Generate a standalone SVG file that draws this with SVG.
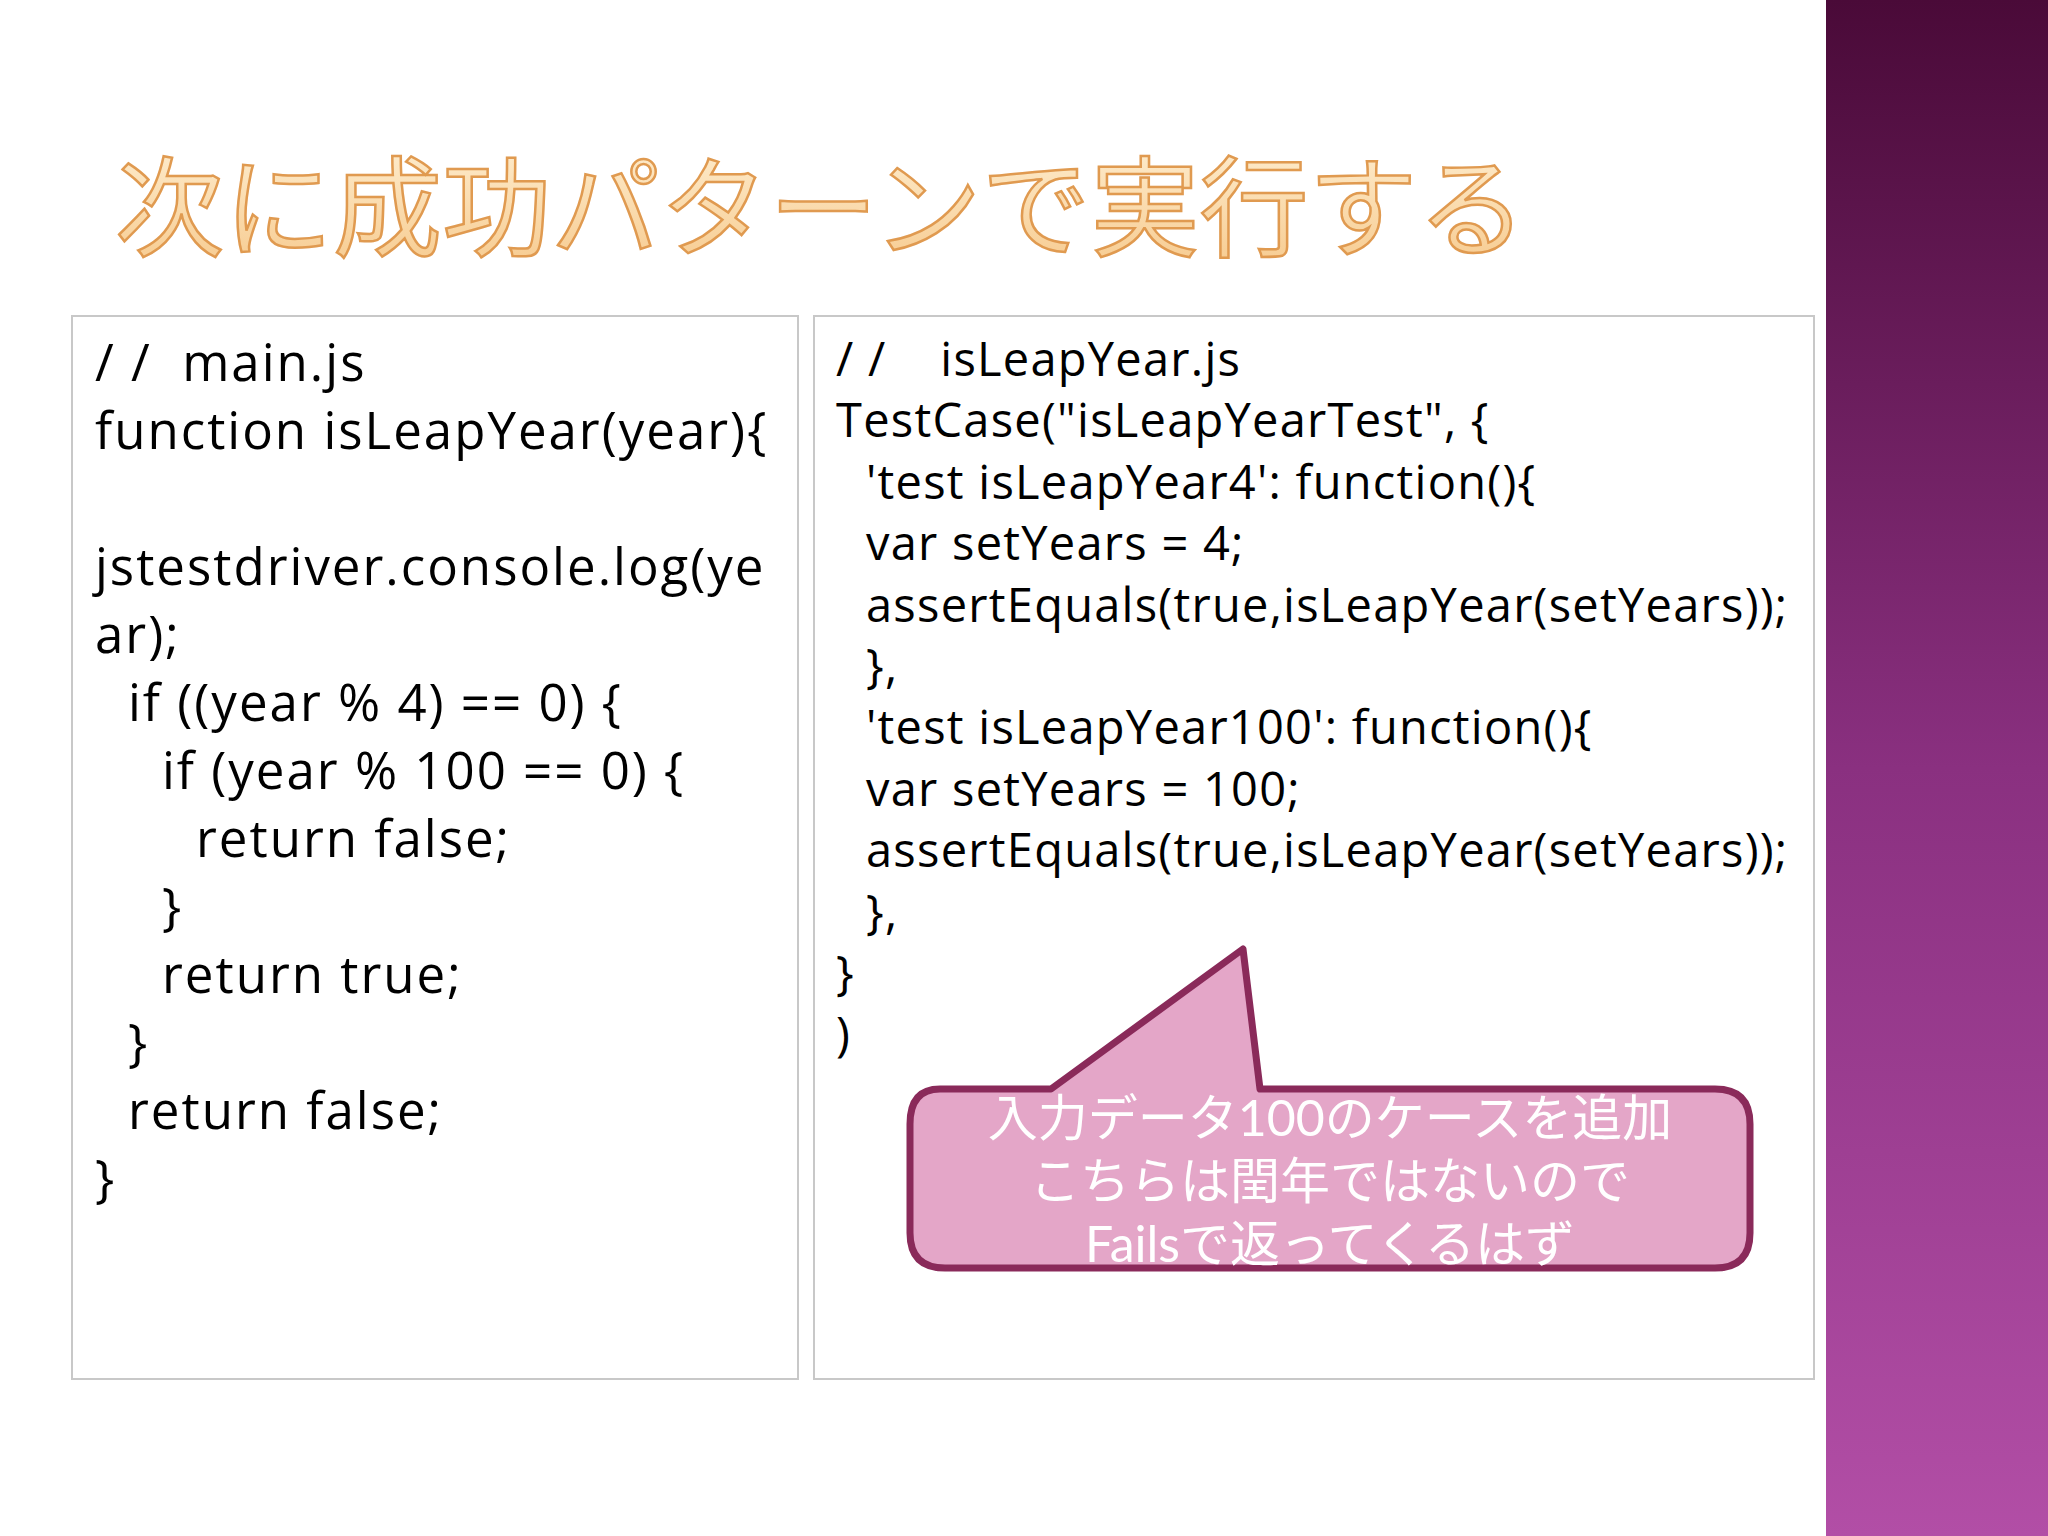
<svg xmlns="http://www.w3.org/2000/svg" width="2048" height="1536" viewBox="0 0 2048 1536">
<defs>
<linearGradient id="band" x1="0" y1="0" x2="0" y2="1"><stop offset="0" stop-color="#4a0a38"/><stop offset="0.5" stop-color="#8a3080"/><stop offset="1" stop-color="#b24ea6"/></linearGradient>
<linearGradient id="title" x1="0" y1="0" x2="0" y2="1"><stop offset="0" stop-color="#fff2d8"/><stop offset="1" stop-color="#f6c88a"/></linearGradient>
</defs>
<style>
.box{fill:#fff;stroke:#c8c8c8;stroke-width:2}
.code{font-family:"Open Sans","Noto Sans CJK JP",sans-serif;fill:#000;white-space:pre}
.l{font-size:51px;letter-spacing:2px}
.r{font-size:47px;letter-spacing:1.25px}
.call{font-family:Lato,"Noto Sans CJK JP",sans-serif;font-size:50px;fill:#fff;text-anchor:middle}
</style>
<rect width="2048" height="1536" fill="#fff"/>
<rect x="1826" y="0" width="222" height="1536" fill="url(#band)"/>
<text x="115" y="248" font-family="'Noto Sans CJK JP',sans-serif" font-size="109" fill="url(#title)" stroke="#e09a50" stroke-width="2.5">次に成功パターンで実行する</text>
<g id="main-box">
<rect class="box" x="72" y="316" width="726" height="1063"/>
<text class="code l"><tspan x="95" y="381">/ /  main.js</tspan><tspan x="95" y="449">function isLeapYear(year){</tspan><tspan x="95" y="585">jstestdriver.console.log(ye</tspan><tspan x="95" y="653">ar);</tspan><tspan x="128" y="721">if ((year % 4) == 0) {</tspan><tspan x="162" y="789">if (year % 100 == 0) {</tspan><tspan x="196" y="857">return false;</tspan><tspan x="162" y="925">}</tspan><tspan x="162" y="993">return true;</tspan><tspan x="128" y="1061">}</tspan><tspan x="128" y="1129">return false;</tspan><tspan x="95" y="1197">}</tspan></text>
</g>
<g id="test-box">
<rect class="box" x="814" y="316" width="1000" height="1063"/>
<text class="code r"><tspan x="836" y="376">/ /    isLeapYear.js</tspan><tspan x="836" y="437">TestCase("isLeapYearTest", {</tspan><tspan x="866" y="499">'test isLeapYear4': function(){</tspan><tspan x="866" y="560">var setYears = 4;</tspan><tspan x="866" y="622">assertEquals(true,isLeapYear(setYears));</tspan><tspan x="866" y="683">},</tspan><tspan x="866" y="744">'test isLeapYear100': function(){</tspan><tspan x="866" y="806">var setYears = 100;</tspan><tspan x="866" y="867">assertEquals(true,isLeapYear(setYears));</tspan><tspan x="866" y="929">},</tspan><tspan x="836" y="990">}</tspan><tspan x="836" y="1051">)</tspan></text>
</g>
<g id="callout">
<path d="M940,1089 H1051 L1243,949 L1260,1089 H1715 Q1750,1089 1750,1124 V1233 Q1750,1268 1715,1268 H945 Q910,1268 910,1233 V1124 Q910,1089 940,1089 Z" fill="#e4a6c8" stroke="#8a2a5a" stroke-width="7" stroke-linejoin="round"/>
<text class="call"><tspan x="1330" y="1136">入力データ100のケースを追加</tspan><tspan x="1330" y="1199">こちらは閏年ではないので</tspan><tspan x="1330" y="1262">Failsで返ってくるはず</tspan></text>
</g>
</svg>
